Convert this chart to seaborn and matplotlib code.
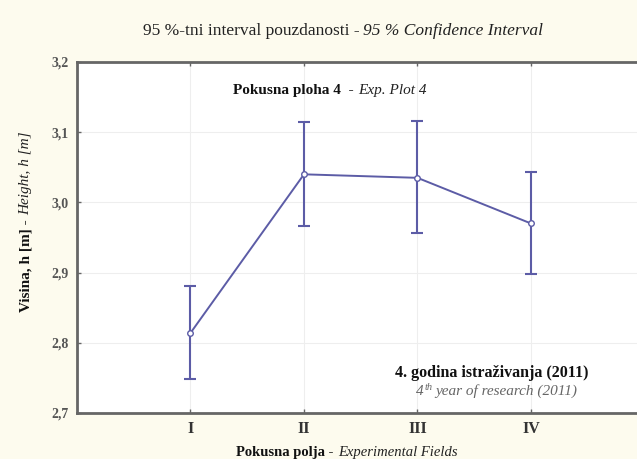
import seaborn as sns
import matplotlib.pyplot as plt
import pandas as pd
from matplotlib.transforms import IdentityTransform

# values (95 % CI per experimental field)
fields = ["I", "II", "III", "IV"]
positions = [1, 2, 3, 4]
means = [2.814, 3.040, 3.035, 2.970]
lower = [2.748, 2.966, 2.956, 2.898]
upper = [2.881, 3.114, 3.116, 3.044]
y_ticks = [2.7, 2.8, 2.9, 3.0, 3.1, 3.2]
y_tick_labels = ["2,7", "2,8", "2,9", "3,0", "3,1", "3,2"]

sns.set_style("white")
plt.rcParams["font.family"] = ["Liberation Serif", "DejaVu Serif"]

W, H = 637, 459
line_col = "#5c5ca6"
df = pd.DataFrame({"pos": positions, "mean": means})

fig = plt.figure(figsize=(W / 100, H / 100), dpi=100, facecolor="#fdfbee")
ax = fig.add_axes([77 / W, 1 - 413 / H, 1 - 77 / W + 0.001, (413 - 62) / H])
ax.set_facecolor("white")


def rich_text(cx, cy, pieces, size, gap=3, rotation=0):
    """Draw text pieces of mixed style one after another, centred on (cx, cy).
    cx, cy in pixels from the top-left, cy is the baseline (x baseline if rotated)."""
    renderer = fig.canvas.get_renderer()
    arts, lens = [], []
    for p in pieces:
        t = fig.text(0, 0, p[0], transform=IdentityTransform(), fontsize=p[2] if len(p) > 2 else size,
                     rotation=rotation, rotation_mode="anchor", ha="left", va="baseline", **p[1])
        bb = t.get_window_extent(renderer)
        arts.append(t)
        lens.append(bb.height if rotation else bb.width)
    total = sum(lens) + gap * (len(pieces) - 1)
    pos = -total / 2
    for t, n, p in zip(arts, lens, pieces):
        dy = p[3] if len(p) > 3 else 0
        if rotation:
            t.set_position((cx - dy, H - cy + pos))
        else:
            t.set_position((cx + pos, H - cy + dy))
        pos += n + (p[4] if len(p) > 4 else gap)


sns.lineplot(data=df, x="pos", y="mean", ax=ax, color=line_col, linewidth=1.4,
             marker="o", markersize=4, markerfacecolor="white",
             markeredgecolor=line_col, markeredgewidth=1)
err = [[m - l for m, l in zip(means, lower)], [u - m for m, u in zip(means, upper)]]
ax.errorbar(positions, means, yerr=err, fmt="none", ecolor=line_col,
            elinewidth=1.5, capsize=4.5, capthick=1.5, zorder=1)

ax.set_xlim(0, 4.94)
ax.set_ylim(2.7, 3.2)
ax.set_xticks(positions)
ax.set_xticklabels(fields, fontweight="bold", fontsize=11.5, color="#333333")
ax.set_yticks(y_ticks)
ax.set_yticklabels(y_tick_labels, fontweight="bold", fontsize=10, color="#555555")
ax.grid(True, color="#eeeeee", linewidth=0.8)
ax.tick_params(axis="both", direction="in", length=3, width=1, color="#666666",
               top=True, left=True, bottom=True, pad=6)
for side in ["left", "top", "bottom"]:
    ax.spines[side].set_color("#666666")
    ax.spines[side].set_linewidth(2)
ax.spines["right"].set_visible(False)
ax.set_xlabel("")
ax.set_ylabel("")

bold = {"fontweight": "bold", "color": "#111111"}
ital = {"fontstyle": "italic", "color": "#222222"}
grey_it = {"fontstyle": "italic", "color": "#666666"}

rich_text(343, 35, [("95 %-tni interval pouzdanosti -", {"color": "#222222"}),
                    ("95 % Confidence Interval", ital)], 12.5, gap=4)
rich_text(330, 94, [("Pokusna ploha 4  -", bold), ("Exp. Plot 4", ital)], 11, gap=5)
rich_text(347, 456, [("Pokusna polja -", bold), ("Experimental Fields", ital)], 10.5, gap=4)
rich_text(29, 222, [("Visina, h [m] -", bold), ("Height, h [m]", ital)], 11, gap=4, rotation=90)
rich_text(492, 377, [("4. godina istraživanja (2011)", bold)], 11.5)
rich_text(498, 395, [("4", grey_it, 11, 0, 0.5), ("th", grey_it, 7.5, 5, 3),
                     ("year of research (2011)", grey_it, 11)], 11)

fig.savefig("out.png", dpi=100, facecolor=fig.get_facecolor())
